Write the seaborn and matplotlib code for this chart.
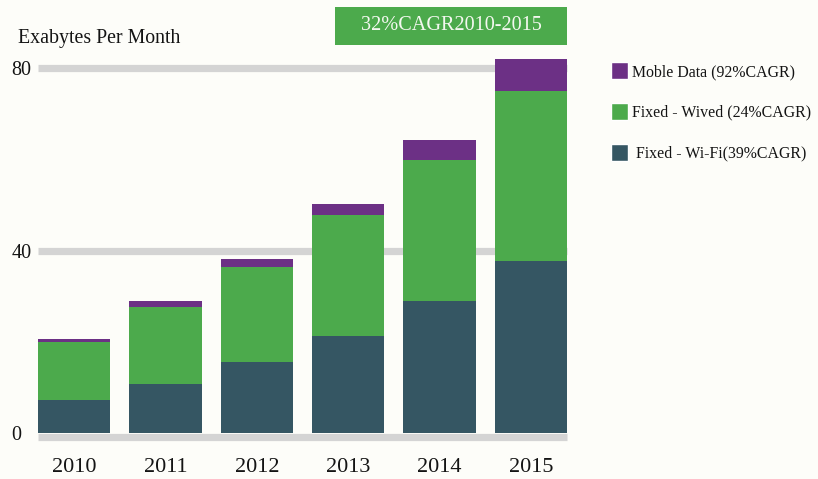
import numpy as np
import matplotlib
matplotlib.use("Agg")
import matplotlib.pyplot as plt
from matplotlib.patches import Patch
import seaborn as sns

# data (exabytes per month)
years = ["2010", "2011", "2012", "2013", "2014", "2015"]
wifi = [7.3, 10.8, 15.5, 21.2, 28.9, 37.8]
wired = [12.6, 16.8, 21.0, 26.7, 30.9, 37.1]
mobile = [0.75, 1.3, 1.7, 2.4, 4.4, 7.2]
y_ticks = [0, 40, 80]
legend_labels = ["Moble Data (92%CAGR)", "Fixed - Wived (24%CAGR)", " Fixed - Wi-Fi(39%CAGR)"]

c_wifi = "#355663"
c_wired = "#4caa4c"
c_mobile = "#6c3085"
bg = "#fdfdf9"
ink = "#141414"

sns.set_style("white")
plt.rcParams["font.family"] = ["Liberation Serif", "DejaVu Serif"]

fig = plt.figure(figsize=(8.18, 4.79), dpi=100, facecolor=bg)
ax = fig.add_axes([38 / 818, 46 / 479, 529 / 818, 85 * 4.56 / 479])
ax.set_facecolor(bg)

# stacked bars: draw cumulative totals back to front
wifi_a = np.array(wifi)
wired_top = wifi_a + np.array(wired)
total = wired_top + np.array(mobile)

for vals, col in [(total, c_mobile), (wired_top, c_wired), (wifi_a, c_wifi)]:
    sns.barplot(x=years, y=vals, color=col, saturation=1, width=0.79, ax=ax,
                zorder=3, linewidth=0, edgecolor=col)

ax.set_xlim(-0.395, 5.395)
ax.set_ylim(0, 85)

# thick grey gridlines (the zero line sits just under the bars)
for t in y_ticks:
    ax.axhline(t - (0.8 if t == 0 else 0), color="#d4d4d4", lw=5.2, zorder=1,
               solid_capstyle="butt", clip_on=False)

for s in ax.spines.values():
    s.set_visible(False)

ax.set_yticks(y_ticks)
ax.set_yticklabels([str(t) for t in y_ticks], ha="left", fontsize=14.5, color=ink)
ax.tick_params(axis="y", length=0, pad=19)
ax.tick_params(axis="x", length=0, pad=18, labelsize=16, labelcolor=ink)
ax.set_xlabel("")
ax.set_ylabel("")

fig.text(18 / 818, 1 - 38 / 479, "Exabytes Per Month", fontsize=14.3, color=ink,
         ha="left", va="center")

# green CAGR box
fig.text(451 / 818, 1 - 26 / 479, "32%CAGR2010-2015", fontsize=14.6, color="#f4f8f0",
         ha="center", va="center")
box = plt.Rectangle((335 / 818, 1 - 45 / 479), 232 / 818, 38 / 479, transform=fig.transFigure,
                    facecolor=c_wired, edgecolor="none", zorder=0)
fig.patches.append(box)

handles = [Patch(facecolor=c_mobile), Patch(facecolor=c_wired), Patch(facecolor=c_wifi)]
fig.legend(handles, legend_labels, loc="upper left", bbox_to_anchor=(611 / 818, 1 - 62 / 479),
           frameon=False, fontsize=11.4, handlelength=1.05, handleheight=1.3, handletextpad=0.3,
           labelspacing=1.45, borderpad=0, borderaxespad=0, labelcolor=ink)

fig.savefig("out.png", dpi=100, facecolor=bg)
